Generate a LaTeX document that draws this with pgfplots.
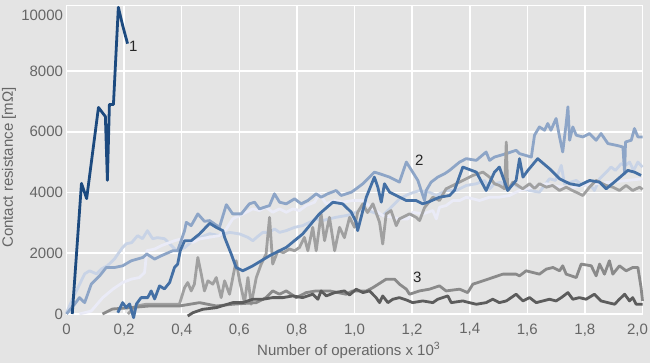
\documentclass[border=0pt]{standalone}
\usepackage{pgfplots}
\pgfplotsset{compat=1.18}
\usepackage{fontspec}
\setmainfont{Liberation Sans}
\definecolor{bg}{HTML}{E4E4E4}
\definecolor{lblgray}{HTML}{666666}
\definecolor{sone}{HTML}{1C4A7F}
\definecolor{mblue}{HTML}{4470A5}
\definecolor{lmblue}{HTML}{8DA5C7}
\definecolor{vlblue}{HTML}{C8D3E6}
\definecolor{wlav}{HTML}{EAEBF7}
\definecolor{mgray}{HTML}{A0A0A0}
\definecolor{ugray}{HTML}{8A8A8A}
\definecolor{dgray}{HTML}{5C5C5C}
\begin{document}
\begin{tikzpicture}
\path[use as bounding box, fill=bg] (-66.5pt,-49pt) rectangle (583.5pt,314pt);
\begin{axis}[
  at={(0pt,0pt)}, anchor=south west,
  scale only axis, width=576pt, height=308.3pt,
  xmin=0, xmax=2, ymin=0, ymax=10150,
  clip=false,
  axis background/.style={fill=bg},
  axis line style={white, line width=1.6pt},
  grid=major, grid style={white, line width=1.6pt},
  major tick length=0pt,
  xtick={0,0.2,0.4,0.6,0.8,1.0,1.2,1.4,1.6,1.8,2.0},
  xticklabels={0,{0,2},{0,4},{0,6},{0,8},{1,0},{1,2},{1,4},{1,6},{1,8},{\kern-10pt 2,0}},
  ytick={0,2000,4000,6000,8000},
  yticklabels={0,2000,4000,6000,8000},
  extra y ticks={10000}, extra y tick labels={10000},
  extra y tick style={grid=none, yticklabel style={yshift=-5pt}},
  tick label style={font=\fontsize{15}{18}\selectfont, text=lblgray},
  xticklabel style={yshift=-6pt},
  xlabel={Number of operations x 10\textsuperscript{3}},
  ylabel={Contact resistance [mΩ]},
  xlabel style={at={(axis description cs:0.49,-0.133)}, anchor=base, font=\fontsize{15}{18}\selectfont, text=lblgray},
  ylabel style={at={(axis description cs:-0.0998,0.475)}, anchor=center, font=\fontsize{15}{18}\selectfont, text=lblgray},
  every axis plot/.append style={no markers, line width=2.8pt, line join=round},
]
% very light blue
\addplot[vlblue] coordinates {(0,33) (0.021,496) (0.063,1322) (0.080,1422) (0.104,1322) (0.122,1488) (0.142,1587) (0.167,1818) (0.194,2182) (0.208,2314) (0.226,2347) (0.247,2579) (0.264,2480) (0.281,2744) (0.299,2480) (0.316,2513) (0.340,2480) (0.358,2314) (0.382,2083) (0.410,2182) (0.438,2413) (0.462,2513) (0.497,2645) (0.531,2579) (0.566,2688) (0.601,2635) (0.630,2523) (0.647,2413) (0.663,2546) (0.682,2688) (0.705,2688) (0.722,2800) (0.740,2688) (0.763,2744) (0.792,2853) (0.820,2909) (0.844,3018) (0.867,3131) (0.889,3075) (0.913,3131) (0.936,3184) (0.971,3240) (0.994,3296) (1.029,3461) (1.064,3349) (1.098,3240) (1.122,3461) (1.156,3792) (1.191,3957) (1.226,4066) (1.260,4010) (1.284,3901) (1.318,4066) (1.353,4066) (1.388,4232) (1.423,4288) (1.451,4397) (1.469,4123) (1.486,4288) (1.509,4341) (1.527,4123) (1.550,4288) (1.573,4166) (1.608,4066) (1.642,4010) (1.660,4232) (1.677,4453) (1.698,4397) (1.718,4893) (1.729,4288) (1.747,4331) (1.770,4397) (1.792,4232) (1.816,4288) (1.833,4066) (1.851,4453) (1.874,4671) (1.891,4837) (1.906,4728) (1.926,4949) (1.941,4893) (1.955,5002) (1.969,4728) (1.984,5002) (2.0,4837)};
% near-white lavender
\addplot[wlav] coordinates {(0.045,0) (0.086,99) (0.126,539) (0.161,817) (0.195,1035) (0.225,1147) (0.253,1200) (0.271,1365) (0.279,2083) (0.306,2139) (0.329,2248) (0.375,2413) (0.398,2470) (0.416,2413) (0.439,2357) (0.462,2470) (0.508,2546) (0.531,2579) (0.555,2800) (0.577,3131) (0.601,3240) (0.624,3349) (0.647,3461) (0.670,3405) (0.693,3514) (0.716,3349) (0.740,3461) (0.763,3349) (0.786,3461) (0.809,3405) (0.832,3570) (0.861,3680) (0.878,3957) (0.902,3627) (0.931,3736) (0.959,3680) (0.994,3736) (1.029,3736) (1.064,3461) (1.098,3240) (1.133,3184) (1.156,3131) (1.185,3131) (1.202,3349) (1.237,3296) (1.272,3405) (1.284,3131) (1.295,3514) (1.318,3570) (1.342,3736) (1.365,3736) (1.388,3845) (1.411,3792) (1.434,3736) (1.469,3845) (1.503,3845) (1.538,3901) (1.573,4066) (1.619,4175) (1.666,4288) (1.700,4200) (1.750,4150) (1.800,4250) (1.850,4300) (1.900,4350) (1.950,4400) (2.0,4450)};
% light-medium blue
\addplot[lmblue] coordinates {(0,0) (0.028,321) (0.045,539) (0.063,374) (0.086,982) (0.115,1256) (0.138,1531) (0.167,1531) (0.195,1587) (0.225,1752) (0.265,1861) (0.279,1974) (0.306,1808) (0.329,1917) (0.369,2083) (0.386,2083) (0.398,2413) (0.410,2744) (0.416,3018) (0.433,2909) (0.456,3296) (0.479,3051) (0.497,3075) (0.531,2853) (0.555,3600) (0.577,3296) (0.607,3296) (0.635,3627) (0.653,3680) (0.670,3461) (0.705,3570) (0.722,3957) (0.740,3680) (0.763,3627) (0.792,3792) (0.815,3627) (0.838,3736) (0.867,3957) (0.884,3845) (0.907,3957) (0.936,4066) (0.954,3901) (0.989,4010) (1.006,4123) (1.029,4288) (1.069,4671) (1.087,4618) (1.122,4506) (1.156,4341) (1.180,5002) (1.202,4671) (1.220,4397) (1.243,3736) (1.249,4066) (1.266,4341) (1.289,4506) (1.313,4618) (1.330,4728) (1.365,5002) (1.388,5114) (1.423,5058) (1.457,5333) (1.469,5058) (1.486,5167) (1.527,5280) (1.561,5389) (1.573,5280) (1.614,5167) (1.625,5885) (1.642,6159) (1.660,6050) (1.671,6271) (1.682,6050) (1.700,6437) (1.712,5829) (1.723,5333) (1.735,6271) (1.741,6820) (1.747,5720) (1.758,6159) (1.770,5885) (1.793,5829) (1.816,5941) (1.839,5720) (1.856,5941) (1.880,5610) (1.909,5554) (1.932,5498) (1.938,4618) (1.941,5663) (1.961,5720) (1.972,6106) (1.984,5829) (2.0,5829)};
% medium gray (noisy)
\addplot[mgray] coordinates {(0.213,0) (0.242,264) (0.277,321) (0.392,321) (0.410,870) (0.421,1035) (0.433,760) (0.444,982) (0.456,1861) (0.468,1312) (0.479,760) (0.491,1091) (0.508,982) (0.520,1200) (0.537,539) (0.549,1091) (0.566,651) (0.589,1752) (0.601,1091) (0.618,374) (0.630,1200) (0.641,321) (0.659,1200) (0.676,1643) (0.693,1974) (0.705,3184) (0.716,1643) (0.734,2083) (0.753,2017) (0.774,2139) (0.792,2083) (0.809,2192) (0.826,2523) (0.838,2083) (0.855,2853) (0.867,2083) (0.884,3296) (0.896,2413) (0.913,3184) (0.931,2083) (0.948,2853) (0.965,2513) (0.983,3184) (1.000,2853) (1.011,3349) (1.029,3627) (1.045,3339) (1.064,3627) (1.087,3018) (1.098,2304) (1.110,3296) (1.127,3405) (1.145,2909) (1.156,3131) (1.191,3296) (1.214,3184) (1.226,3075) (1.243,3500) (1.272,3845) (1.295,3736) (1.318,4123) (1.342,4232) (1.376,4397) (1.411,4562) (1.446,4671) (1.469,4506) (1.486,4288) (1.503,4232) (1.521,4123) (1.527,5663) (1.532,4066) (1.550,4341) (1.584,4123) (1.608,4288) (1.625,4132) (1.642,4288) (1.666,4175) (1.688,4232) (1.712,4066) (1.735,4175) (1.757,4066) (1.793,3901) (1.816,4175) (1.839,4397) (1.874,4232) (1.897,4175) (1.920,4066) (1.943,4232) (1.966,4066) (1.990,4175) (2.0,4100)};
% gray (series 3 upper)
\addplot[ugray] coordinates {(0.125,0) (0.160,165) (0.208,198) (0.288,264) (0.392,264) (0.462,374) (0.520,264) (0.577,321) (0.659,374) (0.693,539) (0.716,760) (0.740,651) (0.763,760) (0.798,539) (0.832,704) (0.867,760) (0.913,760) (0.971,651) (0.994,760) (1.041,760) (1.064,869) (1.110,1147) (1.139,1147) (1.156,982) (1.180,817) (1.191,651) (1.226,760) (1.260,817) (1.295,926) (1.318,760) (1.365,817) (1.393,704) (1.411,982) (1.446,1091) (1.480,1200) (1.515,1312) (1.561,1312) (1.573,1256) (1.596,1422) (1.642,1312) (1.666,1478) (1.689,1531) (1.712,1422) (1.723,1587) (1.735,1312) (1.770,1200) (1.787,1643) (1.822,1587) (1.839,1256) (1.851,1643) (1.868,1312) (1.885,1752) (1.897,1312) (1.920,1587) (1.943,1422) (1.966,1531) (1.984,1531) (1.995,870) (2.0,430)};
% dark gray
\addplot[dgray] coordinates {(0.421,-66) (0.439,43) (0.473,155) (0.520,208) (0.577,374) (0.612,374) (0.647,486) (0.682,486) (0.716,539) (0.751,539) (0.786,595) (0.820,539) (0.855,651) (0.873,486) (0.884,760) (0.902,595) (0.931,704) (0.965,760) (0.983,628) (1.006,817) (1.029,704) (1.052,760) (1.075,539) (1.087,374) (1.098,595) (1.116,374) (1.133,486) (1.156,539) (1.180,463) (1.202,374) (1.237,430) (1.272,374) (1.289,486) (1.324,595) (1.336,374) (1.376,430) (1.399,374) (1.423,321) (1.457,374) (1.480,486) (1.503,374) (1.527,430) (1.544,539) (1.561,651) (1.585,430) (1.608,539) (1.631,374) (1.654,430) (1.677,486) (1.700,430) (1.718,539) (1.741,704) (1.758,486) (1.781,539) (1.804,486) (1.833,651) (1.856,430) (1.880,374) (1.903,321) (1.920,486) (1.938,651) (1.955,430) (1.966,539) (1.978,321) (2.0,321)};
% medium blue (2)
\addplot[mblue] coordinates {(0.178,43) (0.195,375) (0.207,208) (0.219,331) (0.233,-120) (0.243,331) (0.259,539) (0.282,539) (0.294,760) (0.306,496) (0.323,926) (0.340,826) (0.358,1035) (0.375,1531) (0.386,1643) (0.395,2083) (0.410,2413) (0.433,2413) (0.462,2635) (0.497,2985) (0.520,2853) (0.543,2744) (0.549,2523) (0.572,1974) (0.589,1531) (0.612,1422) (0.647,1587) (0.705,1917) (0.763,2192) (0.820,2635) (0.878,3296) (0.925,3680) (0.959,3626) (0.989,3349) (1.006,3018) (1.011,2744) (1.041,3845) (1.069,4506) (1.081,4176) (1.093,3680) (1.104,4288) (1.122,4010) (1.145,3901) (1.180,3736) (1.214,3736) (1.237,3627) (1.260,3700) (1.295,3845) (1.330,3901) (1.347,4066) (1.376,4837) (1.423,4671) (1.457,4066) (1.486,4671) (1.503,4837) (1.532,4066) (1.561,4397) (1.573,5114) (1.585,4506) (1.602,4728) (1.636,5114) (1.677,4784) (1.712,4453) (1.747,4288) (1.781,4232) (1.816,4397) (1.851,4341) (1.874,4123) (1.909,4397) (1.949,4728) (1.972,4671) (1.995,4562)};
% series 1 dark blue
\addplot[sone] coordinates {(0.02,0) (0.052,4300) (0.07,3800) (0.111,6800) (0.135,6500) (0.142,4400) (0.149,6900) (0.163,6900) (0.18,10100) (0.195,9500) (0.212,8900)};
\node[font=\fontsize{15}{18}\selectfont, text=black!85] at (axis cs:0.232,8800) {1};
\node[font=\fontsize{15}{18}\selectfont, text=black!85] at (axis cs:1.225,5070) {2};
\node[font=\fontsize{15}{18}\selectfont, text=black!85] at (axis cs:1.218,1195) {3};
\end{axis}
\end{tikzpicture}
\end{document}
